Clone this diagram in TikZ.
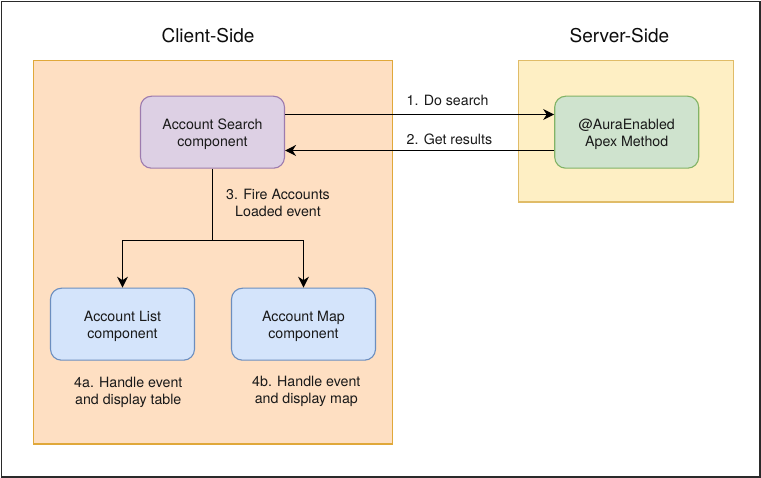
\documentclass[tikz,border=0pt]{standalone}
\usepackage{fontspec}
\setmainfont{TeX Gyre Heros}
\usetikzlibrary{arrows.meta}
\newcommand{\pushdn}{\rule{0pt}{14.5pt}}
\tikzset{
  x=1pt,y=-1pt,
  regionbox/.style={draw,line width=1.2pt,inner sep=0pt,anchor=north west},
  compbox/.style={draw,line width=1.1pt,rounded corners=11pt,minimum width=144pt,minimum height=72pt,inner sep=0pt,align=center,font=\fontsize{14.2}{17}\selectfont,text=black!90},
  lbl/.style={inner sep=0pt,align=center,font=\fontsize{14.2}{17}\selectfont,text=black!90},
  ttl/.style={inner sep=0pt,font=\fontsize{19}{22}\selectfont,text=black!95},
  conn/.style={line width=1.2pt,black},
  arr/.style={conn,-{Stealth[length=11pt,width=11pt,inset=3.5pt]}}
}
\definecolor{frameC}{HTML}{2A2A2A}
\definecolor{clientF}{HTML}{FEDFC2}
\definecolor{clientD}{HTML}{E0A83A}
\definecolor{serverF}{HTML}{FEEFC4}
\definecolor{serverD}{HTML}{E0BC68}
\definecolor{purpleF}{HTML}{DDD0E4}
\definecolor{purpleD}{HTML}{9D7BAE}
\definecolor{greenF}{HTML}{CFE3CE}
\definecolor{greenD}{HTML}{82B366}
\definecolor{blueF}{HTML}{D4E4FB}
\definecolor{blueD}{HTML}{6C8EBF}
\begin{document}
\begin{tikzpicture}
\useasboundingbox (0,0) rectangle (761,478);
\node[draw=frameC,line width=1.6pt,fill=white,minimum width=758.6pt,minimum height=475.6pt,inner sep=0pt,anchor=north west] (frame) at (0.8,0.8) {};
\node[regionbox,draw=clientD,fill=clientF,minimum width=359.6pt,minimum height=383.4pt] (client) at (32.6,60) {};
\node[regionbox,draw=serverD,fill=serverF,minimum width=215.6pt,minimum height=141.4pt] (server) at (517.6,60) {};
\node[ttl] (clientT) at (208,36) {Client-Side};
\node[ttl] (serverT) at (619.4,36) {Server-Side};
\node[compbox,draw=purpleD,fill=purpleF] (search) at (212.5,132.2) {\pushdn Account Search\\component};
\node[compbox,draw=greenD,fill=greenF] (apex) at (626.7,132.2) {\pushdn @AuraEnabled\\Apex Method};
\node[compbox,draw=blueD,fill=blueF] (list) at (122.5,324.2) {\pushdn Account List\\component};
\node[compbox,draw=blueD,fill=blueF] (map) at (303.5,324.2) {\pushdn Account Map\\component};
\coordinate (j) at (212.5,240.5);
\draw[arr] ([yshift=17.7pt]search.east) -- ([yshift=17.7pt]apex.west);
\draw[arr] ([yshift=-18.3pt]apex.west) -- ([yshift=-18.3pt]search.east);
\draw[conn] (search.south) -- (j);
\draw[arr] (j) -| (list.north);
\draw[arr] (j) -| (map.north);
\node[lbl,anchor=west] (l1) at (406.5,100.2) {1. Do search};
\node[lbl,anchor=west] (l2) at (406.5,139.2) {2. Get results};
\node[lbl] (l3) at (278,202.8) {3. Fire Accounts\\Loaded event};
\node[lbl] (l4a) at (128.3,392.6) {4a. Handle event\\and display table};
\node[lbl] (l4b) at (306.3,391.6) {4b. Handle event\\and display map};
\end{tikzpicture}
\end{document}
